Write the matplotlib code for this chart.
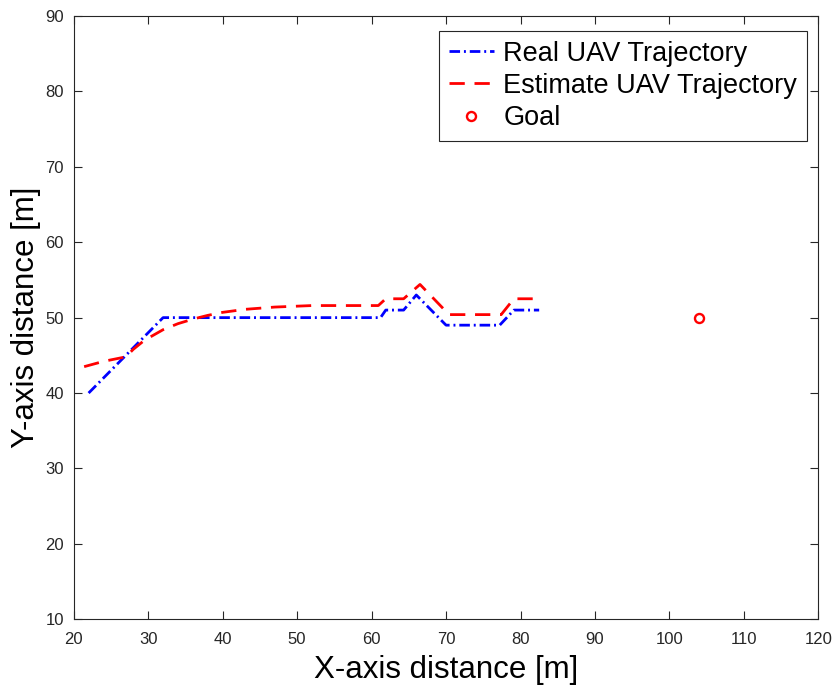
import matplotlib
matplotlib.use("Agg")
import matplotlib.pyplot as plt

plt.rcParams['font.family'] = ['Liberation Sans', 'DejaVu Sans']

# real trajectory
real_x = [22, 32, 61.2, 61.9, 64.3, 66, 70, 77.2, 79.1, 82.5]
real_y = [40, 50, 50, 51, 51, 53, 49, 49, 51, 51]

# estimated trajectory
est_x = [21.4, 24, 27, 28, 29.5, 32, 34, 36, 38, 40, 43, 47, 52, 60.9, 61.9, 64.3, 66.5, 70.4, 77.4, 79.1, 82.8]
est_y = [43.5, 44.2, 44.8, 45.8, 47.0, 48.4, 49.2, 49.8, 50.3, 50.7, 51.1, 51.4, 51.6, 51.6, 52.5, 52.5, 54.4, 50.4, 50.4, 52.5, 52.5]

goal_x = [104]
goal_y = [50]

fig = plt.figure(figsize=(8.33, 6.92), dpi=100)
ax = fig.add_axes([0.0885, 0.105, 0.894, 0.872])

ax.plot(real_x, real_y, color='blue', linestyle=(0, (3.8, 1.4, 0.7, 1.4)), linewidth=2,
        label='Real UAV Trajectory')
ax.plot(est_x, est_y, color='red', linestyle=(0, (5.5, 3.5)), linewidth=2,
        label='Estimate UAV Trajectory')
ax.plot(goal_x, goal_y, 'o', color='red', markerfacecolor='none', markeredgewidth=1.7,
        markersize=6.5, linestyle='none', label='Goal')

ax.set_xlim(20, 120)
ax.set_ylim(10, 90)
ax.set_xticks(range(20, 121, 10))
ax.set_yticks(range(10, 91, 10))
ax.tick_params(direction='in', top=True, right=True, labelsize=12, colors='0.15', length=6)
ax.tick_params(axis='x', pad=9)
ax.tick_params(axis='y', pad=7)
for s in ax.spines.values():
    s.set_color('0.15')
    s.set_linewidth(0.8)

ax.set_xlabel('X-axis distance [m]', fontsize=22.5, labelpad=6)
ax.set_ylabel('Y-axis distance [m]', fontsize=22.5, labelpad=3)

leg = ax.legend(loc='upper right', bbox_to_anchor=(0.9844, 0.9746), borderaxespad=0,
                fontsize=19.5, fancybox=False, framealpha=1,
                edgecolor='0.15', handlelength=1.67, borderpad=0.35, labelspacing=0.23,
                handletextpad=0.35)
leg.get_frame().set_linewidth(0.8)

fig.savefig('out.png', dpi=100)
